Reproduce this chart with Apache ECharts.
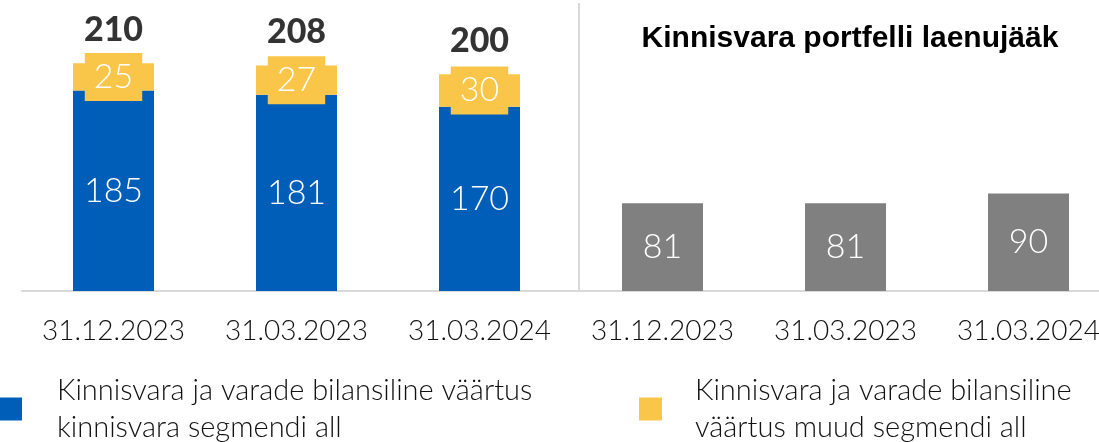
<!DOCTYPE html>
<html>
<head>
<meta charset="utf-8">
<style>
  html, body { margin: 0; padding: 0; background: #fff; }
  #chart { width: 1099px; height: 442px; }
</style>
<script src="https://cdn.jsdelivr.net/npm/echarts@6/dist/echarts.min.js"></script>
</head>
<body>
<div id="chart"></div>
<script>
// andmed
var categories = ['31.12.2023', '31.03.2023', '31.03.2024', '31.12.2023', '31.03.2023', '31.03.2024'];
var segmentValues = [185, 181, 170, '-', '-', '-'];
var otherValues = [25, 27, 30, '-', '-', '-'];
var totalValues = [210, 208, 200, '-', '-', '-'];
var loanValues = ['-', '-', '-', 81, 81, 90];
var legendNames = ['Kinnisvara ja varade bilansiline väärtus\nkinnisvara segmendi all',
                   'Kinnisvara ja varade bilansiline\nväärtus muud segmendi all'];

var thin = 'Lato';
var blue = '#005EB8', yellow = '#FAC649', grey = '#808080', line = '#D9D9D9';

var myChart = echarts.init(document.getElementById('chart'));

var option = {
  animation: false,
  title: {
    text: 'Kinnisvara portfelli laenujääk',
    left: 845,
    textAlign: 'center',
    top: 19,
    textStyle: { fontFamily: 'Liberation Sans', fontWeight: 'bold', fontSize: 30, color: '#000' }
  },
  // kaks eraldi legendi, et paigutus sobiks
  legend: [
    {
      data: [legendNames[0]],
      left: 0, top: 372, padding: 0,
      itemWidth: 22, itemHeight: 23, icon: 'rect',
      textStyle: { fontFamily: thin, fontWeight: 300, fontSize: 29, lineHeight: 37, color: '#111', padding: [0, 0, 0, 30] }
    },
    {
      data: [legendNames[1]],
      left: 639, top: 372, padding: 0,
      itemWidth: 23, itemHeight: 23, icon: 'rect',
      textStyle: { fontFamily: thin, fontWeight: 300, fontSize: 29, lineHeight: 37, color: '#111', padding: [0, 0, 0, 28] }
    }
  ],
  // ruudustik ulatub paremalt üle pildi serva
  grid: { left: 22, width: 1098, top: 20, bottom: 151, containLabel: false, outerBoundsMode: 'none' },
  xAxis: {
    type: 'category',
    data: categories,
    axisTick: { show: false },
    axisLine: { lineStyle: { color: line, width: 2 } },
    axisLabel: { interval: 0, fontFamily: thin, fontWeight: 300, fontSize: 28, lineHeight: 30, color: '#111', margin: 25 }
  },
  yAxis: {
    type: 'value', min: 0, max: 250,
    show: false, splitLine: { show: false }
  },
  graphic: [
    {
      type: 'line',
      shape: { x1: 579, y1: 3, x2: 579, y2: 291 },
      style: { stroke: line, lineWidth: 2 },
      silent: true
    }
  ],
  series: [
    {
      name: legendNames[0],
      type: 'bar', stack: 'a', barWidth: 81,
      data: segmentValues,
      itemStyle: { color: blue },
      label: { show: true, position: 'inside', color: '#fff', fontFamily: thin, fontWeight: 300, fontSize: 34 }
    },
    {
      name: legendNames[1],
      type: 'bar', stack: 'a', barWidth: 81,
      data: otherValues,
      itemStyle: { color: yellow },
      label: {
        show: true, position: 'inside', color: '#fff', fontFamily: thin, fontWeight: 300, fontSize: 34,
        lineHeight: 34, backgroundColor: yellow, padding: [7, 9]
      }
    },
    {
      name: 'laenujääk',
      type: 'bar', stack: 'a', barWidth: 81,
      data: loanValues,
      itemStyle: { color: grey },
      label: { show: true, position: 'inside', color: '#fff', fontFamily: thin, fontWeight: 300, fontSize: 34 }
    },
    {
      // kogusumma tulba kohal
      name: 'kokku',
      type: 'scatter',
      data: totalValues,
      symbolSize: 1,
      itemStyle: { color: 'rgba(0,0,0,0)' },
      label: {
        show: true, position: 'top', distance: 16,
        color: '#000', fontFamily: thin, fontWeight: 900, fontSize: 34, lineHeight: 34
      },
      silent: true
    }
  ]
};

myChart.setOption(option);
</script>
</body>
</html>
